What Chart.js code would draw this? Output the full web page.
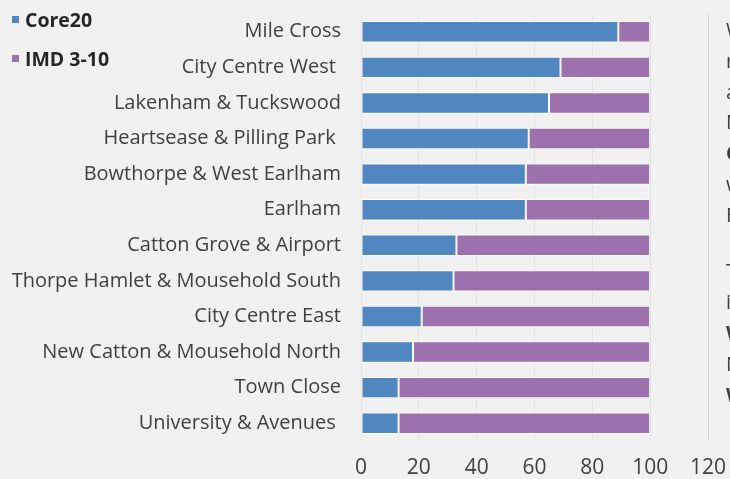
<!DOCTYPE html>
<html lang="en">
<head>
  <meta charset="UTF-8">
  <title>Core20 vs IMD 3-10 by ward</title>
  <script src="https://cdn.jsdelivr.net/npm/chart.js"></script>
  <style>
    body {
      margin: 0;
      padding: 0;
      background: #f1f1f1;
      font-family: 'Open Sans', sans-serif;
      overflow: hidden;
    }
    #wrap {
      position: relative;
      width: 730px;
      height: 479px;
    }
    #legend {
      position: absolute;
      left: 12px;
      top: 6px;
      color: #262626;
      font-weight: bold;
      font-size: 19.5px;
    }
    #legend div {
      height: 39px;
      line-height: 28px;
    }
    #legend span.box {
      display: inline-block;
      width: 7px;
      height: 7px;
      margin-right: 6px;
      vertical-align: middle;
      position: relative;
      top: -2px;
    }
    #side {
      position: absolute;
      left: 726px;
      top: 0;
      color: #404040;
      font-size: 20px;
      white-space: nowrap;
    }
    #side div { position: absolute; left: 0; }
  </style>
</head>
<body>
  <div id="wrap">
    <canvas id="chart" width="730" height="479"></canvas>
    <div id="legend"></div>
    <div id="side"></div>
  </div>

  <script>
    const wards = [
      'Mile Cross',
      'City Centre West ',
      'Lakenham & Tuckswood',
      'Heartsease & Pilling Park ',
      'Bowthorpe & West Earlham',
      'Earlham',
      'Catton Grove & Airport',
      'Thorpe Hamlet & Mousehold South',
      'City Centre East',
      'New Catton & Mousehold North',
      'Town Close',
      'University & Avenues '
    ];
    const core20 = [89, 69, 65, 58, 57, 57, 33, 32, 21, 18, 13, 13];
    const imd310 = [11, 31, 35, 42, 43, 43, 67, 68, 79, 82, 87, 87];
    const xTicks = [0, 20, 40, 60, 80, 100, 120];

    const blue = '#5087c1';
    const purple = '#9c71ad';

    // cut-off text from the neighbouring slide panel
    const sideLines = [
      ['W', 30, false], ['r', 61, false], ['a', 92, false], ['N', 122, false],
      ['C', 153, true], ['w', 184, false], ['F', 215, false],
      ['T', 271, false], ['i', 302, false], ['W', 333, true], ['N', 364, false], ['W', 395, true]
    ];

    const side = document.getElementById('side');
    sideLines.forEach(([t, y, b]) => {
      const d = document.createElement('div');
      d.textContent = t;
      d.style.top = (y - 14) + 'px';
      if (b) d.style.fontWeight = 'bold';
      side.appendChild(d);
    });

    const datasets = [
      { label: 'Core20', data: core20, backgroundColor: blue },
      { label: 'IMD 3-10', data: imd310, backgroundColor: purple }
    ];

    const legend = document.getElementById('legend');
    datasets.forEach(ds => {
      const row = document.createElement('div');
      row.innerHTML = `<span class="box" style="background:${ds.backgroundColor}"></span>${ds.label}`;
      legend.appendChild(row);
    });

    // let layout.padding alone decide the plot edges
    const noPad = s => {
      s.paddingTop = 0; s.paddingBottom = 0;
      s.paddingLeft = 0; s.paddingRight = 0;
    };

    new Chart(document.getElementById('chart'), {
      type: 'bar',
      data: {
        labels: wards,
        datasets: datasets.map(ds => Object.assign({
          borderColor: 'rgba(255,255,255,0.85)',
          borderWidth: 1,
          borderSkipped: false,
          barPercentage: 0.6,
          categoryPercentage: 1
        }, ds))
      },
      options: {
        indexAxis: 'y',
        responsive: false,
        animation: false,
        layout: { padding: { top: 14, right: 22, bottom: 0, left: 0 } },
        plugins: {
          legend: { display: false },
          tooltip: { enabled: false }
        },
        scales: {
          x: {
            stacked: true,
            min: 0,
            max: 120,
            afterBuildTicks: s => { s.ticks = xTicks.map(v => ({ value: v })); },
            afterFit: s => { noPad(s); s.height = 38; },
            grid: {
              color: c => c.tick && c.tick.value === 120 ? '#d6d6d6' : '#e2e2e2',
              drawTicks: false
            },
            border: { display: false },
            ticks: {
              color: '#404040',
              padding: 14,
              font: { family: 'Open Sans', size: 21 }
            }
          },
          y: {
            stacked: true,
            afterFit: s => { noPad(s); s.width = 361; },
            grid: { display: false, drawTicks: false },
            border: { display: false },
            ticks: {
              color: '#404040',
              padding: 20,
              font: { family: 'Open Sans', size: 20 }
            }
          }
        }
      }
    });
  </script>
</body>
</html>
